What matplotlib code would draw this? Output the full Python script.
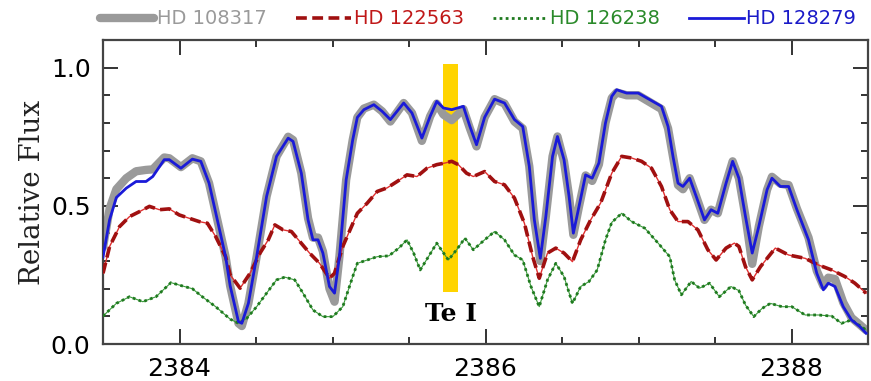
import numpy as np
import matplotlib.pyplot as plt
from matplotlib.ticker import MultipleLocator

# HD 128279 (blue)
wl_blue = [2383.500, 2383.543, 2383.587, 2383.652, 2383.716, 2383.781, 2383.825, 2383.900, 2383.933,
           2384.009, 2384.084, 2384.139, 2384.193, 2384.247, 2384.301, 2384.331, 2384.385, 2384.407,
           2384.450, 2384.504, 2384.569, 2384.634, 2384.710, 2384.742, 2384.796, 2384.840, 2384.872,
           2384.905, 2384.937, 2384.980, 2385.013, 2385.045, 2385.089, 2385.132, 2385.162, 2385.205,
           2385.270, 2385.324, 2385.378, 2385.465, 2385.519, 2385.584, 2385.638, 2385.681, 2385.725,
           2385.779, 2385.855, 2385.898, 2385.941, 2385.994, 2386.059, 2386.124, 2386.189, 2386.243,
           2386.286, 2386.319, 2386.358, 2386.394, 2386.438, 2386.470, 2386.513, 2386.546, 2386.574,
           2386.611, 2386.654, 2386.697, 2386.741, 2386.784, 2386.825, 2386.857, 2386.922, 2386.998,
           2387.074, 2387.150, 2387.193, 2387.225, 2387.258, 2387.290, 2387.334, 2387.377, 2387.431,
           2387.474, 2387.518, 2387.572, 2387.615, 2387.656, 2387.699, 2387.743, 2387.786, 2387.840,
           2387.872, 2387.927, 2387.981, 2388.035, 2388.111, 2388.165, 2388.208, 2388.240, 2388.284,
           2388.338, 2388.392, 2388.446, 2388.487]
fl_blue = [0.315, 0.450, 0.530, 0.564, 0.588, 0.588, 0.606, 0.667, 0.667,
           0.636, 0.669, 0.661, 0.582, 0.449, 0.316, 0.210, 0.081, 0.075,
           0.147, 0.316, 0.534, 0.679, 0.745, 0.733, 0.618, 0.449, 0.377,
           0.377, 0.329, 0.208, 0.184, 0.316, 0.594, 0.739, 0.820, 0.848,
           0.866, 0.842, 0.812, 0.872, 0.836, 0.745, 0.824, 0.878, 0.854,
           0.848, 0.860, 0.787, 0.721, 0.820, 0.886, 0.872, 0.812, 0.787,
           0.643, 0.449, 0.310, 0.461, 0.679, 0.751, 0.667, 0.534, 0.401,
           0.498, 0.612, 0.600, 0.655, 0.800, 0.896, 0.920, 0.908, 0.908,
           0.884, 0.860, 0.787, 0.679, 0.582, 0.570, 0.600, 0.534, 0.449,
           0.486, 0.473, 0.582, 0.661, 0.600, 0.461, 0.329, 0.425, 0.558,
           0.600, 0.570, 0.570, 0.486, 0.377, 0.256, 0.196, 0.220, 0.208,
           0.135, 0.087, 0.063, 0.039]

# HD 108317 (grey) - close to HD 128279 except in a few places
wl_grey = list(wl_blue)
fl_grey = [0.350, 0.490, 0.560, 0.600, 0.625, 0.630, 0.632, 0.675, 0.672,
           0.640, 0.672, 0.661, 0.582, 0.449, 0.316, 0.210, 0.075, 0.065,
           0.147, 0.316, 0.534, 0.679, 0.750, 0.738, 0.618, 0.455, 0.385,
           0.385, 0.335, 0.200, 0.153, 0.316, 0.594, 0.739, 0.820, 0.852,
           0.866, 0.842, 0.805, 0.872, 0.836, 0.735, 0.824, 0.870, 0.830,
           0.810, 0.850, 0.780, 0.715, 0.820, 0.886, 0.870, 0.805, 0.780,
           0.643, 0.449, 0.300, 0.461, 0.679, 0.751, 0.660, 0.534, 0.395,
           0.498, 0.610, 0.590, 0.650, 0.800, 0.890, 0.910, 0.900, 0.900,
           0.875, 0.850, 0.780, 0.679, 0.575, 0.560, 0.600, 0.534, 0.449,
           0.486, 0.473, 0.582, 0.661, 0.600, 0.461, 0.290, 0.425, 0.558,
           0.605, 0.580, 0.575, 0.490, 0.385, 0.265, 0.210, 0.240, 0.235,
           0.150, 0.095, 0.070, 0.050]

# HD 122563 (red)
wl_red = [2383.500, 2383.543, 2383.608, 2383.673, 2383.738, 2383.803, 2383.868, 2383.933, 2383.998,
          2384.063, 2384.128, 2384.182, 2384.236, 2384.301, 2384.331, 2384.396, 2384.461, 2384.526,
          2384.580, 2384.623, 2384.677, 2384.731, 2384.786, 2384.850, 2384.915, 2384.980, 2385.013,
          2385.067, 2385.162, 2385.227, 2385.292, 2385.357, 2385.422, 2385.487, 2385.552, 2385.617,
          2385.681, 2385.736, 2385.779, 2385.822, 2385.876, 2385.920, 2385.994, 2386.059, 2386.124,
          2386.189, 2386.254, 2386.308, 2386.351, 2386.405, 2386.459, 2386.513, 2386.568, 2386.622,
          2386.687, 2386.752, 2386.825, 2386.890, 2386.955, 2387.020, 2387.085, 2387.150, 2387.204,
          2387.258, 2387.323, 2387.388, 2387.453, 2387.507, 2387.572, 2387.626, 2387.656, 2387.699,
          2387.743, 2387.797, 2387.894, 2387.981, 2388.089, 2388.175, 2388.262, 2388.349, 2388.414,
          2388.487]
fl_red = [0.256, 0.353, 0.425, 0.461, 0.479, 0.498, 0.486, 0.489, 0.467,
          0.455, 0.443, 0.437, 0.389, 0.316, 0.250, 0.202, 0.256, 0.329,
          0.377, 0.431, 0.413, 0.407, 0.371, 0.329, 0.292, 0.238, 0.256,
          0.353, 0.473, 0.510, 0.552, 0.565, 0.588, 0.612, 0.606, 0.636,
          0.649, 0.655, 0.661, 0.649, 0.618, 0.606, 0.624, 0.588, 0.576,
          0.528, 0.437, 0.316, 0.238, 0.329, 0.347, 0.329, 0.298, 0.377,
          0.449, 0.510, 0.618, 0.679, 0.673, 0.661, 0.636, 0.570, 0.486,
          0.443, 0.443, 0.413, 0.341, 0.304, 0.347, 0.365, 0.353, 0.280,
          0.232, 0.280, 0.347, 0.322, 0.310, 0.286, 0.268, 0.244, 0.220,
          0.184]

# HD 126238 (green)
wl_green = [2383.500, 2383.587, 2383.673, 2383.760, 2383.846, 2383.944, 2384.019, 2384.084, 2384.149,
            2384.236, 2384.331, 2384.385, 2384.439, 2384.504, 2384.569, 2384.634, 2384.688, 2384.753,
            2384.807, 2384.872, 2384.937, 2385.002, 2385.067, 2385.132, 2385.162, 2385.227, 2385.292,
            2385.368, 2385.433, 2385.487, 2385.530, 2385.573, 2385.627, 2385.681, 2385.757, 2385.811,
            2385.865, 2385.920, 2385.994, 2386.059, 2386.124, 2386.189, 2386.243, 2386.297, 2386.351,
            2386.405, 2386.459, 2386.513, 2386.568, 2386.622, 2386.676, 2386.730, 2386.784, 2386.825,
            2386.890, 2386.955, 2387.041, 2387.128, 2387.204, 2387.236, 2387.280, 2387.344, 2387.399,
            2387.464, 2387.528, 2387.604, 2387.656, 2387.699, 2387.753, 2387.808, 2387.862, 2387.937,
            2388.002, 2388.089, 2388.175, 2388.262, 2388.327, 2388.392, 2388.487]
fl_green = [0.101, 0.147, 0.171, 0.153, 0.171, 0.222, 0.210, 0.200, 0.171,
            0.135, 0.090, 0.075, 0.093, 0.135, 0.184, 0.232, 0.242, 0.232,
            0.184, 0.123, 0.099, 0.099, 0.135, 0.244, 0.292, 0.304, 0.316,
            0.319, 0.347, 0.377, 0.329, 0.268, 0.316, 0.365, 0.304, 0.341,
            0.383, 0.341, 0.377, 0.407, 0.377, 0.322, 0.304, 0.208, 0.135,
            0.232, 0.292, 0.244, 0.147, 0.208, 0.226, 0.268, 0.377, 0.440,
            0.473, 0.443, 0.419, 0.365, 0.316, 0.232, 0.178, 0.226, 0.202,
            0.220, 0.171, 0.208, 0.193, 0.141, 0.099, 0.129, 0.147, 0.135,
            0.135, 0.105, 0.105, 0.101, 0.075, 0.087, 0.051]

# Te I line marker
te_wl = 2385.774
te_width = 0.098
te_bottom = 0.188
te_top = 1.014

fig = plt.figure(figsize=(8.71, 3.81), dpi=100)
ax = fig.add_axes([0.1183, 0.0971, 0.8783, 0.7979])

ax.bar(te_wl, te_top - te_bottom, bottom=te_bottom, width=te_width,
       color='#ffd400', zorder=1)

l_grey, = ax.plot(wl_grey, fl_grey, color='#9a9a9a', lw=6, solid_capstyle='round',
                  solid_joinstyle='round', zorder=2)
ax.plot(wl_red, fl_red, color='#e03030', lw=1.0, zorder=3)
l_red, = ax.plot(wl_red, fl_red, color='#a01010', lw=2.6, ls=(0, (3, 1.5)), zorder=3)
ax.plot(wl_green, fl_green, color='#3a9a3a', lw=0.8, zorder=3)
l_green, = ax.plot(wl_green, fl_green, color='#1f7a1f', lw=2.0, ls=(0, (1, 1.2)), zorder=3)
l_blue, = ax.plot(wl_blue, fl_blue, color='#1a1ad8', lw=2.0, solid_joinstyle='round', zorder=4)

ax.text(te_wl, 0.11, 'Te I', ha='center', va='center', fontsize=18,
        fontweight='bold', family='DejaVu Serif')

ax.set_xlim(2383.5, 2388.5)
ax.set_ylim(0, 1.1)
ax.xaxis.set_major_locator(MultipleLocator(2))
ax.xaxis.set_minor_locator(MultipleLocator(0.5))
ax.yaxis.set_major_locator(MultipleLocator(0.5))
ax.yaxis.set_minor_locator(MultipleLocator(0.1))
ax.yaxis.set_major_formatter(plt.FormatStrFormatter('%.1f'))
ax.tick_params(which='both', direction='in', top=True, right=True, width=1.4, color='#333333')
ax.tick_params(which='major', length=11, labelsize=18, pad=9)
ax.tick_params(which='minor', length=5)
for s in ax.spines.values():
    s.set_linewidth(1.6)
    s.set_color('#444444')

ax.set_ylabel('Relative Flux', fontsize=20, family='DejaVu Serif', color='#222222')
ax.yaxis.set_label_coords(-0.075, 0.5)

leg = ax.legend([l_grey, l_red, l_green, l_blue],
                ['HD 108317', 'HD 122563', 'HD 126238', 'HD 128279'],
                loc='lower right', bbox_to_anchor=(1.0, 1.0), ncol=4, frameon=False,
                fontsize=14, handlelength=2.8, handletextpad=0.15, columnspacing=1.5,
                borderaxespad=0.5, borderpad=0.1,
                labelcolor=['#9a9a9a', '#c01818', '#2a8a2a', '#1a1ac8'])

fig.savefig('out.png', dpi=100)
